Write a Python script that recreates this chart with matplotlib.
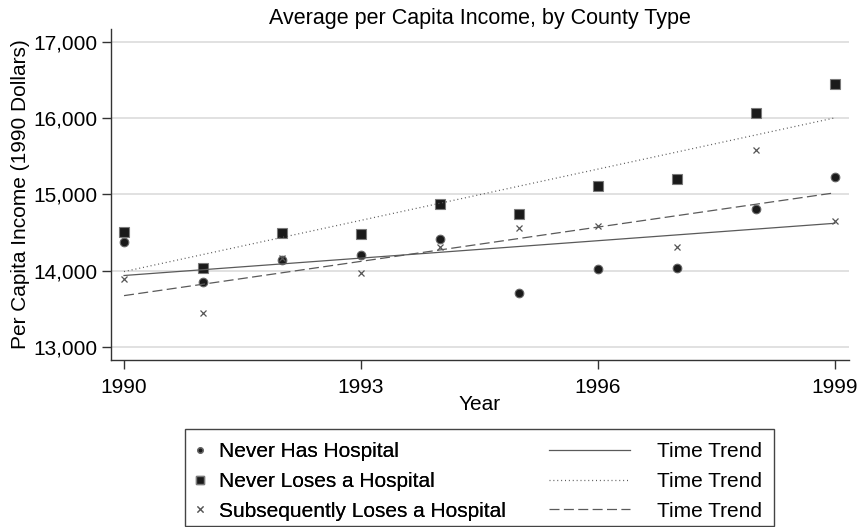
import numpy as np
import matplotlib
matplotlib.use('Agg')
import matplotlib.pyplot as plt
from matplotlib.lines import Line2D
from matplotlib.patches import Rectangle
from matplotlib.ticker import FuncFormatter

plt.rcParams['font.family'] = ['Liberation Sans', 'DejaVu Sans']
plt.rcParams['font.size'] = 15

years = np.arange(1990, 2000)
never_has = [14375, 13854, 14143, 14205, 14415, 13702, 14017, 14034, 14812, 15228]
never_loses = [14511, 14030, 14489, 14484, 14878, 14739, 15114, 15206, 16064, 16445]
subs_loses = [13885, 13448, 14161, 13965, 14305, 14563, 14589, 14314, 15583, 14651]
series_names = ['Never Has Hospital', 'Never Loses a Hospital',
                'Subsequently Loses a Hospital']
year_ticks = [1990, 1993, 1996, 1999]
income_ticks = [13000, 14000, 15000, 16000, 17000]

W, H = 867, 527
fig = plt.figure(figsize=(W / 100, H / 100), dpi=100)
ax = fig.add_axes([111 / W, 1 - 360 / H, (849 - 111) / W, (360 - 29) / H])

gray = '#555555'
ax.set_axisbelow(True)
ax.grid(axis='y', color='#d9d9d9', lw=1.1)

# scatter points
ax.plot(years, never_has, 'o', ms=6.2, mfc='#1a1a1a', mec='#666666', mew=0.8)
ax.plot(years, never_loses, 's', ms=7.5, mfc='#1a1a1a', mec='#7a7a7a', mew=0.8)
ax.plot(years, subs_loses, 'x', ms=4.5, color=gray, mew=0.9)

# linear time trends
styles = ['-', (0, (0.8, 2.3)), (0, (8, 3.5))]
for vals, ls in zip([never_has, never_loses, subs_loses], styles):
    b, a = np.polyfit(years, vals, 1)
    ax.plot(years, a + b * years, ls=ls, color='#5a5a5a', lw=0.9)

ax.set_xlim(1989.835, 1999.18)
ax.set_ylim(12827, 17171)
ax.set_xticks(year_ticks)
ax.set_yticks(income_ticks)
ax.yaxis.set_major_formatter(FuncFormatter(lambda v, p: f'{int(v):,}'))
ax.tick_params(length=6.3, width=1, color='#333333', pad=3.6)
ax.tick_params(axis='x', pad=7)
for s in ['top', 'right']:
    ax.spines[s].set_visible(False)
for s in ['left', 'bottom']:
    ax.spines[s].set_color('#333333')
    ax.spines[s].set_linewidth(1)

ax.set_title('Average per Capita Income, by County Type', fontsize=15.5, pad=1)
ax.set_xlabel('Year', labelpad=-2)
ax.set_ylabel('Per Capita Income (1990 Dollars)', labelpad=2)

# legend: markers column and trend line column
mk_handles = [
    Line2D([], [], ls='none', marker='o', ms=3.8, mfc='#1a1a1a', mec='#666666'),
    Line2D([], [], ls='none', marker='s', ms=6.2, mfc='#1a1a1a', mec='#7a7a7a'),
    Line2D([], [], ls='none', marker='x', ms=3.8, color=gray, mew=0.8),
]
ln_handles = [Line2D([], [], ls=ls, color='#5a5a5a', lw=0.9) for ls in styles]

leg1 = fig.legend(mk_handles, series_names, loc='upper left',
                  bbox_to_anchor=(191.7 / W, 1 - 442 / H), frameon=False,
                  borderpad=0, borderaxespad=0, handlelength=0.8,
                  handletextpad=0.51, labelspacing=0.52)
leg2 = fig.legend(ln_handles, ['Time Trend'] * 3, loc='upper left',
                  bbox_to_anchor=(549 / W, 1 - 442 / H), frameon=False,
                  borderpad=0, borderaxespad=0, handlelength=3.9,
                  handletextpad=1.3, labelspacing=0.52)
fig.add_artist(leg1)
fig.patches.append(Rectangle((185 / W, 1 - 526 / H), 589 / W, 97 / H,
                             transform=fig.transFigure, fill=False,
                             edgecolor='#444444', lw=1))

fig.savefig('out.png', dpi=100)
